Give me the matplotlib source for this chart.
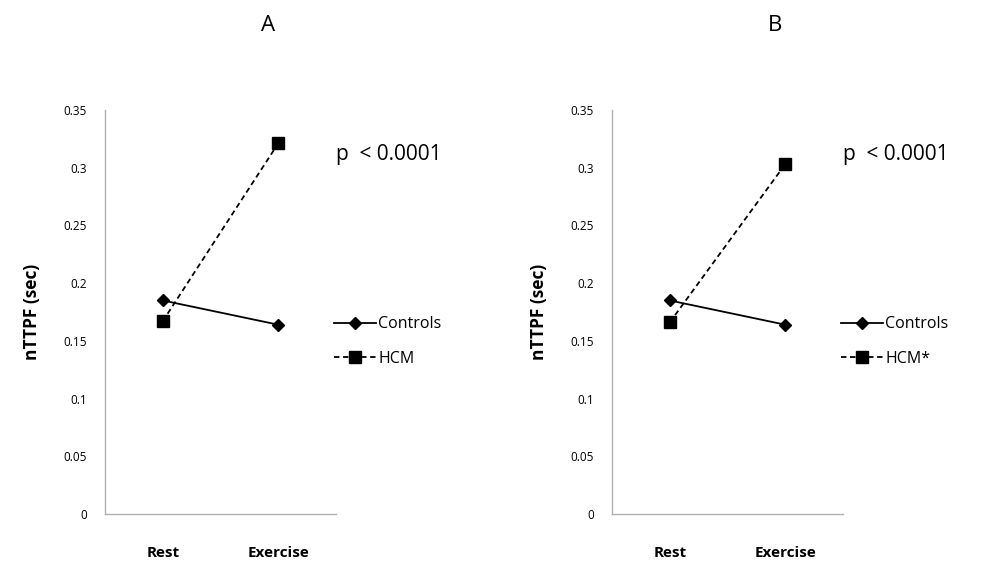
import matplotlib.pyplot as plt

plt.rcParams['font.family'] = ['Open Sans', 'DejaVu Sans']

# nTTPF at rest and during exercise
phases = ['Rest', 'Exercise']
controls_a = [0.185, 0.164]
hcm_a = [0.167, 0.321]
controls_b = [0.185, 0.164]
hcm_b = [0.166, 0.303]
yticks = [0, 0.05, 0.1, 0.15, 0.2, 0.25, 0.3, 0.35]
ytick_labels = ['0', '0.05', '0.1', '0.15', '0.2', '0.25', '0.3', '0.35']

fig = plt.figure(figsize=(9.93, 5.62), dpi=100)

panels = [
    ('A', 0.1057, controls_a, hcm_a, 'HCM'),
    ('B', 0.6163, controls_b, hcm_b, 'HCM*'),
]

for title, left, ctrl, hcm, hcm_label in panels:
    ax = fig.add_axes([left, 0.0854, 0.2326, 0.7189])
    x = range(len(phases))
    ax.plot(x, ctrl, color='black', lw=1.3, marker='D', ms=6,
            label='Controls')
    ax.plot(x, hcm, color='black', lw=1.3, ls=(0, (3, 2)), marker='s',
            ms=9, label=hcm_label)
    ax.set_xlim(-0.5, 1.5)
    ax.set_ylim(0, 0.35)
    ax.set_yticks(yticks)
    ax.set_yticklabels(ytick_labels, fontsize=8.5)
    ax.set_xticks(list(x))
    ax.set_xticklabels(phases, fontsize=11, fontweight='bold')
    ax.tick_params(length=0)
    ax.tick_params(axis='y', pad=13)
    ax.tick_params(axis='x', pad=23)
    for side in ['top', 'right']:
        ax.spines[side].set_visible(False)
    for side in ['left', 'bottom']:
        ax.spines[side].set_color('#b0b0b0')
        ax.spines[side].set_linewidth(1.0)
    ax.set_ylabel('nTTPF (sec)', fontsize=12.5, fontweight='bold')
    ax.yaxis.set_label_coords(-0.275, 0.5)
    ax.text(1.0, 0.889, 'p  < 0.0001', transform=ax.transAxes,
            fontsize=15, ha='left', va='center')
    ax.legend(loc='center left', bbox_to_anchor=(0.93, 0.427),
              frameon=False, fontsize=11.5, handlelength=2.6,
              handletextpad=0.15, labelspacing=1.15)
    fig.text(left + 0.2326 * 0.705, 0.955, title, fontsize=16,
             ha='center', va='center')

fig.savefig('out.png', dpi=100)
